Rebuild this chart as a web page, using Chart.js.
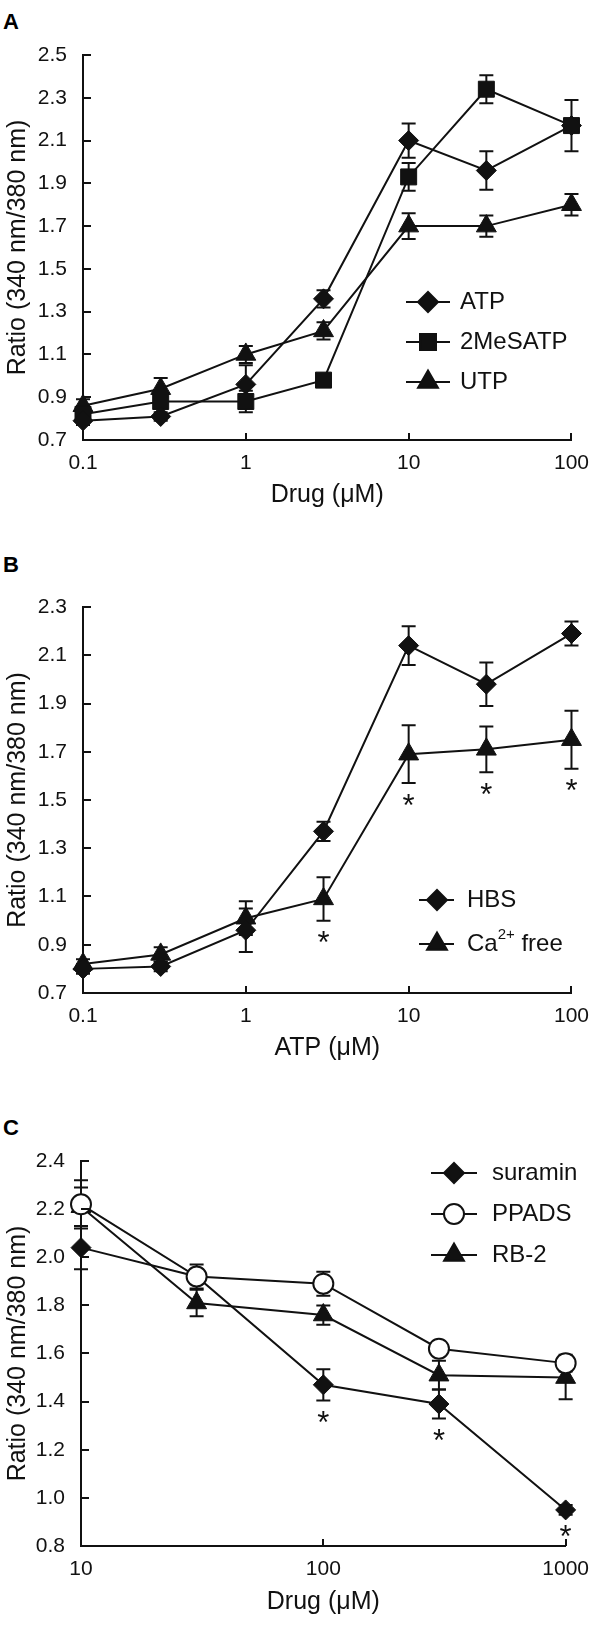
<!DOCTYPE html>
<html>
<head>
<meta charset="utf-8">
<script src="https://cdn.jsdelivr.net/npm/chart.js@4.4.1/dist/chart.umd.min.js"></script>
<style>
html,body{margin:0;padding:0;background:#fff;}
body{width:600px;height:1641px;position:relative;overflow:hidden;font-family:"Liberation Sans",Arial,sans-serif;}
.panel{position:absolute;left:0;width:600px;}
.letter{position:absolute;left:3px;font:bold 22px "Liberation Sans",Arial,sans-serif;line-height:22px;color:#000;}
</style>
</head>
<body>
<div class="letter" style="top:11px">A</div>
<div class="letter" style="top:554px">B</div>
<div class="letter" style="top:1117px">C</div>
<div class="panel" style="top:0px;height:510px"><canvas id="cA"></canvas></div>
<div class="panel" style="top:550px;height:513px"><canvas id="cB"></canvas></div>
<div class="panel" style="top:1100px;height:517px"><canvas id="cC"></canvas></div>
<script>
// ---------- Panel A data ----------
const doseA = [0.1, 0.3, 1, 3, 10, 30, 100];
const atpA = [0.79, 0.81, 0.96, 1.36, 2.10, 1.96, 2.17];
const atpAErr = [0.02, 0.02, 0.09, 0.04, 0.08, 0.09, 0.03];
const meSATP = [0.82, 0.88, 0.88, 0.98, 1.93, 2.34, 2.17];
const meSATPErr = [0.03, 0.03, 0.05, 0.02, 0.065, 0.065, 0.12];
const utp = [0.86, 0.94, 1.10, 1.21, 1.70, 1.70, 1.80];
const utpErr = [0.03, 0.05, 0.04, 0.04, 0.06, 0.05, 0.05];
const xTicksA = [0.1, 1, 10, 100];
const xTickLabelsA = ['0.1', '1', '10', '100'];
const yTicksA = [0.7, 0.9, 1.1, 1.3, 1.5, 1.7, 1.9, 2.1, 2.3, 2.5];

// ---------- Panel B data ----------
const doseB = [0.1, 0.3, 1, 3, 10, 30, 100];
const hbs = [0.80, 0.81, 0.96, 1.37, 2.14, 1.98, 2.19];
const hbsErr = [0.02, 0.02, 0.09, 0.04, 0.08, 0.09, 0.05];
const caFree = [0.82, 0.86, 1.01, 1.09, 1.69, 1.71, 1.75];
const caFreeErr = [0.02, 0.03, 0.07, 0.09, 0.12, 0.095, 0.12];
const caFreeStars = [3, 4, 5, 6];
const xTicksB = [0.1, 1, 10, 100];
const xTickLabelsB = ['0.1', '1', '10', '100'];
const yTicksB = [0.7, 0.9, 1.1, 1.3, 1.5, 1.7, 1.9, 2.1, 2.3];

// ---------- Panel C data ----------
const doseC = [10, 30, 100, 300, 1000];
const suramin = [2.04, 1.92, 1.47, 1.39, 0.95];
const suraminErr = [0.09, 0.03, 0.065, 0.06, 0.02];
const ppads = [2.22, 1.92, 1.89, 1.62, 1.56];
const ppadsErr = [0.10, 0.05, 0.05, 0.03, 0.035];
const rb2 = [2.21, 1.81, 1.76, 1.51, 1.50];
const rb2Err = [0.08, 0.055, 0.04, 0.06, 0.09];
const suraminStars = [2, 3, 4];
const xTicksC = [10, 100, 1000];
const xTickLabelsC = ['10', '100', '1000'];
const yTicksC = [0.8, 1.0, 1.2, 1.4, 1.6, 1.8, 2.0, 2.2, 2.4];

// ---------- styling ----------
const FONT = '"Liberation Sans", Arial, sans-serif';
const INK = '#111';
const MARK = {
  rectRot: 10,
  rect: 11.3,
  triangle: 11.5,
  circle: 10
};

function drawMarker(ctx, style, x, y, r, fill) {
  ctx.beginPath();
  if (style === 'rectRot') {
    ctx.moveTo(x - r, y); ctx.lineTo(x, y - r); ctx.lineTo(x + r, y); ctx.lineTo(x, y + r);
    ctx.closePath();
  } else if (style === 'rect') {
    const s = r * Math.SQRT1_2;
    ctx.rect(x - s, y - s, 2 * s, 2 * s);
  } else if (style === 'triangle') {
    ctx.moveTo(x, y - r);
    ctx.lineTo(x + 0.866 * r, y + 0.5 * r);
    ctx.lineTo(x - 0.866 * r, y + 0.5 * r);
    ctx.closePath();
  } else {
    ctx.arc(x, y, r, 0, Math.PI * 2);
  }
  ctx.fillStyle = fill;
  ctx.fill();
  ctx.lineWidth = 2;
  ctx.strokeStyle = INK;
  ctx.stroke();
}

const extras = {
  id: 'extras',
  beforeDatasetsDraw(chart, args, opts) {
    const ctx = chart.ctx, xs = chart.scales.x, ys = chart.scales.y;
    ctx.save();
    ctx.strokeStyle = INK; ctx.lineWidth = 2;
    chart.data.datasets.forEach((ds, i) => {
      const err = opts.errors[i];
      if (!err) return;
      ds.data.forEach((p, j) => {
        const e = err[j];
        if (!e) return;
        const px = xs.getPixelForValue(p.x);
        const t = ys.getPixelForValue(p.y + e), b = ys.getPixelForValue(p.y - e);
        const c = 7;
        ctx.beginPath();
        ctx.moveTo(px, t); ctx.lineTo(px, b);
        ctx.moveTo(px - c, t); ctx.lineTo(px + c, t);
        ctx.moveTo(px - c, b); ctx.lineTo(px + c, b);
        ctx.stroke();
      });
    });
    ctx.restore();
  },
  afterDraw(chart, args, opts) {
    const ctx = chart.ctx, xs = chart.scales.x, ys = chart.scales.y;
    const area = chart.chartArea;
    ctx.save();
    // inward ticks
    ctx.strokeStyle = INK; ctx.lineWidth = 2;
    ctx.beginPath();
    xs.ticks.forEach(t => {
      const px = Math.round(xs.getPixelForValue(t.value));
      ctx.moveTo(px, area.bottom); ctx.lineTo(px, area.bottom - 7);
    });
    ys.ticks.forEach(t => {
      const py = Math.round(ys.getPixelForValue(t.value));
      ctx.moveTo(area.left, py); ctx.lineTo(area.left + 8, py);
    });
    ctx.stroke();
    // significance stars
    const SS = 31;
    ctx.fillStyle = INK;
    ctx.font = SS + 'px ' + FONT;
    ctx.textAlign = 'center';
    ctx.textBaseline = 'alphabetic';
    chart.data.datasets.forEach((ds, i) => {
      const st = opts.stars[i];
      if (!st) return;
      st.forEach(j => {
        const p = ds.data[j];
        const e = opts.errors[i][j] || 0;
        const px = xs.getPixelForValue(p.x);
        const b = ys.getPixelForValue(p.y - e);
        ctx.fillText('*', px, b + 15 + 0.57 * SS);
      });
    });
    // legend
    const L = opts.legend;
    chart.data.datasets.forEach((ds, i) => {
      const y = L.ys[i];
      ctx.strokeStyle = INK; ctx.lineWidth = 2;
      ctx.beginPath(); ctx.moveTo(L.x1, y); ctx.lineTo(L.x2, y); ctx.stroke();
      drawMarker(ctx, ds.pointStyle, L.xm, y, ds.pointRadius, ds.pointBackgroundColor);
      let x = L.xt;
      ctx.fillStyle = INK;
      ctx.textAlign = 'left';
      ctx.textBaseline = 'middle';
      L.labels[i].forEach(seg => {
        if (seg.sup) {
          ctx.font = '15px ' + FONT;
          ctx.fillText(seg.t, x, y - 9);
        } else {
          ctx.font = L.size + 'px ' + FONT;
          ctx.fillText(seg.t, x, y);
        }
        x += ctx.measureText(seg.t).width;
      });
    });
    ctx.restore();
  }
};

function series(label, xs, ys, style, fill, order) {
  return {
    label: label,
    data: xs.map((x, i) => ({x: x, y: ys[i]})),
    order: order,
    borderColor: INK,
    borderWidth: 2,
    pointStyle: style,
    pointRadius: MARK[style],
    pointHoverRadius: MARK[style],
    pointBackgroundColor: fill,
    pointBorderColor: INK,
    pointBorderWidth: style === 'circle' ? 2 : 1,
    fill: false,
    tension: 0,
    clip: false
  };
}

function makeChart(id, cfg) {
  const tickFont = {family: FONT, size: 21};
  const titleFont = {family: FONT, size: 25};
  return new Chart(document.getElementById(id), {
    type: 'line',
    data: {datasets: cfg.datasets},
    plugins: [extras],
    options: {
      responsive: true,
      maintainAspectRatio: false,
      animation: false,
      events: [],
      layout: {padding: {top: cfg.padTop, right: cfg.padRight, left: 3, bottom: 0}},
      plugins: {
        legend: {display: false},
        tooltip: {enabled: false},
        extras: {errors: cfg.errors, stars: cfg.stars, legend: cfg.legend}
      },
      scales: {
        x: {
          type: 'logarithmic',
          min: cfg.xTicks[0],
          max: cfg.xTicks[cfg.xTicks.length - 1],
          grid: {display: false, drawTicks: false},
          border: {display: true, color: INK, width: 2},
          afterBuildTicks: s => { s.ticks = cfg.xTicks.map(v => ({value: v})); },
          afterFit: s => { s.height = cfg.xHeight; },
          ticks: {
            color: INK, font: tickFont, padding: 11, maxRotation: 0, autoSkip: false,
            callback: (v, i) => cfg.xLabels[i]
          },
          title: {display: true, text: cfg.xTitle, color: INK, font: titleFont, padding: 0}
        },
        y: {
          type: 'linear',
          min: cfg.yTicks[0],
          max: cfg.yTicks[cfg.yTicks.length - 1],
          grid: {display: false, drawTicks: false},
          border: {display: true, color: INK, width: 2},
          afterBuildTicks: s => { s.ticks = cfg.yTicks.map(v => ({value: v})); },
          afterFit: s => { s.width = cfg.yWidth; },
          ticks: {
            color: INK, font: tickFont, padding: 16, autoSkip: false,
            callback: v => Number(v).toFixed(1)
          },
          title: {display: true, text: 'Ratio (340 nm/380 nm)', color: INK, font: titleFont, padding: 0}
        }
      }
    }
  });
}

makeChart('cA', {
  datasets: [
    series('ATP', doseA, atpA, 'rectRot', INK, 0),
    series('2MeSATP', doseA, meSATP, 'rect', INK, 1),
    series('UTP', doseA, utp, 'triangle', INK, 2)
  ],
  errors: [atpAErr, meSATPErr, utpErr],
  stars: [null, null, null],
  legend: {x1: 406, x2: 450, xm: 428, xt: 460, ys: [302, 342, 382], size: 24,
    labels: [[{t: 'ATP'}], [{t: '2MeSATP'}], [{t: 'UTP'}]]},
  xTicks: xTicksA, xLabels: xTickLabelsA, yTicks: yTicksA,
  xTitle: 'Drug (\u03bcM)', padTop: 55, padRight: 27, xHeight: 70, yWidth: 80
});

makeChart('cB', {
  datasets: [
    series('HBS', doseB, hbs, 'rectRot', INK, 0),
    series('Ca2+ free', doseB, caFree, 'triangle', INK, 1)
  ],
  errors: [hbsErr, caFreeErr],
  stars: [null, caFreeStars],
  legend: {x1: 419, x2: 454, xm: 437, xt: 467, ys: [350, 394], size: 24,
    labels: [[{t: 'HBS'}], [{t: 'Ca'}, {t: '2+', sup: true}, {t: ' free'}]]},
  xTicks: xTicksB, xLabels: xTickLabelsB, yTicks: yTicksB,
  xTitle: 'ATP (\u03bcM)', padTop: 57, padRight: 27, xHeight: 70, yWidth: 80
});

makeChart('cC', {
  datasets: [
    series('suramin', doseC, suramin, 'rectRot', INK, 1),
    series('PPADS', doseC, ppads, 'circle', '#fff', 0),
    series('RB-2', doseC, rb2, 'triangle', INK, 2)
  ],
  errors: [suraminErr, ppadsErr, rb2Err],
  stars: [suraminStars, null, null],
  legend: {x1: 431, x2: 477, xm: 454, xt: 492, ys: [73, 114, 155], size: 24,
    labels: [[{t: 'suramin'}], [{t: 'PPADS'}], [{t: 'RB-2'}]]},
  xTicks: xTicksC, xLabels: xTickLabelsC, yTicks: yTicksC,
  xTitle: 'Drug (\u03bcM)', padTop: 61, padRight: 26, xHeight: 71, yWidth: 78
});
</script>
</body>
</html>
